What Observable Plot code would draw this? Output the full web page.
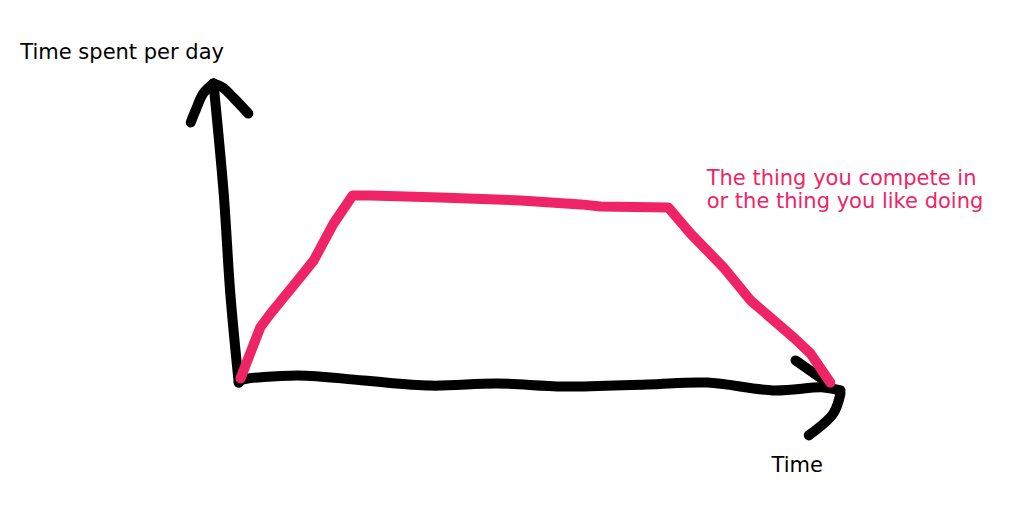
<!DOCTYPE html>
<html>
<head>
<meta charset="utf-8">
<script src="https://cdn.jsdelivr.net/npm/d3@7"></script>
<script src="https://cdn.jsdelivr.net/npm/@observablehq/plot@0.6"></script>
<style>
  body { margin: 0; background: #fff; }
  #chart svg { display: block; }
</style>
</head>
<body>
<div id="chart"></div>
<script>
// hand drawn strokes, x = time, y = time spent per day (0..100 each)
const pinkT = [0, 3.3, 5, 9.5, 12.2, 15.5, 18.7, 21.7, 33.3, 46.7, 56.7, 60, 71.3, 75, 80.5, 85, 92.2, 95, 98.3];
const pinkV = [0.7, 17.7, 22.3, 33.3, 40, 52.3, 61.7, 61.7, 61, 60, 58.7, 58, 57.7, 49, 37.7, 26.7, 14.3, 9, -0.7];

const yAxisT = [-0.3, -1.7, -2.8, -4.5];
const yAxisV = [-0.7, 29, 62.3, 99];
const yHeadLeftT = [-8.3, -7.5, -6.2, -4.5];
const yHeadLeftV = [86, 90, 95.7, 99];
const yHeadRightT = [-4.5, -3, -1.2, 1.3];
const yHeadRightV = [99, 97.7, 94.3, 89];

const xAxisT = [-0.3, 0, 9.5, 20.5, 31.7, 42.8, 53.8, 67.8, 77.8, 88.8, 97.2, 100];
const xAxisV = [-0.7, 0, 1.7, 0, -1.7, -1, -2, -1.3, -0.7, -3.3, -2.3, -3.3];
const xHeadLowT = [100, 98.8, 94.7];
const xHeadLowV = [-4.3, -11, -18.3];
const xHeadUpT = [92.5, 97.8];
const xHeadUpV = [6.7, -0.7];

const labels = ["Time spent per day", "Time"];
const labelT = [-36.7, 88.5];
const labelV = [109.3, -28.2];

const noteLines = ["The thing you compete in", "or the thing you like doing"];
const noteT = [77.7, 77.7];
const noteV = [67.5, 59.8];

const pink = "#ef2466";

function strokes(parts) {
  const rows = [];
  parts.forEach(([name, ts, vs]) => ts.forEach((t, i) => rows.push({part: name, t, v: vs[i]})));
  return rows;
}

const axisRows = strokes([
  ["yAxis", yAxisT, yAxisV],
  ["yHeadLeft", yHeadLeftT, yHeadLeftV],
  ["yHeadRight", yHeadRightT, yHeadRightV],
  ["xAxis", xAxisT, xAxisV],
  ["xHeadLow", xHeadLowT, xHeadLowV],
  ["xHeadUp", xHeadUpT, xHeadUpV]
]);
const pinkRows = strokes([["pink", pinkT, pinkV]]);
const labelRows = labels.map((s, i) => ({s, t: labelT[i], v: labelV[i]}));
const noteRows = noteLines.map((s, i) => ({s, t: noteT[i], v: noteV[i]}));

const chart = Plot.plot({
  width: 1032,
  height: 529,
  marginLeft: 240,
  marginRight: 192,
  marginTop: 80,
  marginBottom: 149,
  x: {domain: [0, 100], axis: null},
  y: {domain: [0, 100], axis: null},
  style: {fontFamily: "DejaVu Sans", background: "#fff"},
  marks: [
    Plot.line(axisRows, {
      x: "t", y: "v", z: "part",
      stroke: "#000", strokeWidth: 10,
      strokeLinecap: "round", strokeLinejoin: "round",
      curve: "catmull-rom"
    }),
    Plot.line(pinkRows, {
      x: "t", y: "v",
      stroke: pink, strokeWidth: 10,
      strokeLinecap: "round", strokeLinejoin: "round"
    }),
    Plot.text(labelRows, {
      x: "t", y: "v", text: "s",
      textAnchor: "start", fontSize: 21, fill: "#000"
    }),
    Plot.text(noteRows, {
      x: "t", y: "v", text: "s",
      textAnchor: "start", fontSize: 21, fill: pink
    })
  ]
});

document.getElementById("chart").append(chart);
</script>
</body>
</html>
